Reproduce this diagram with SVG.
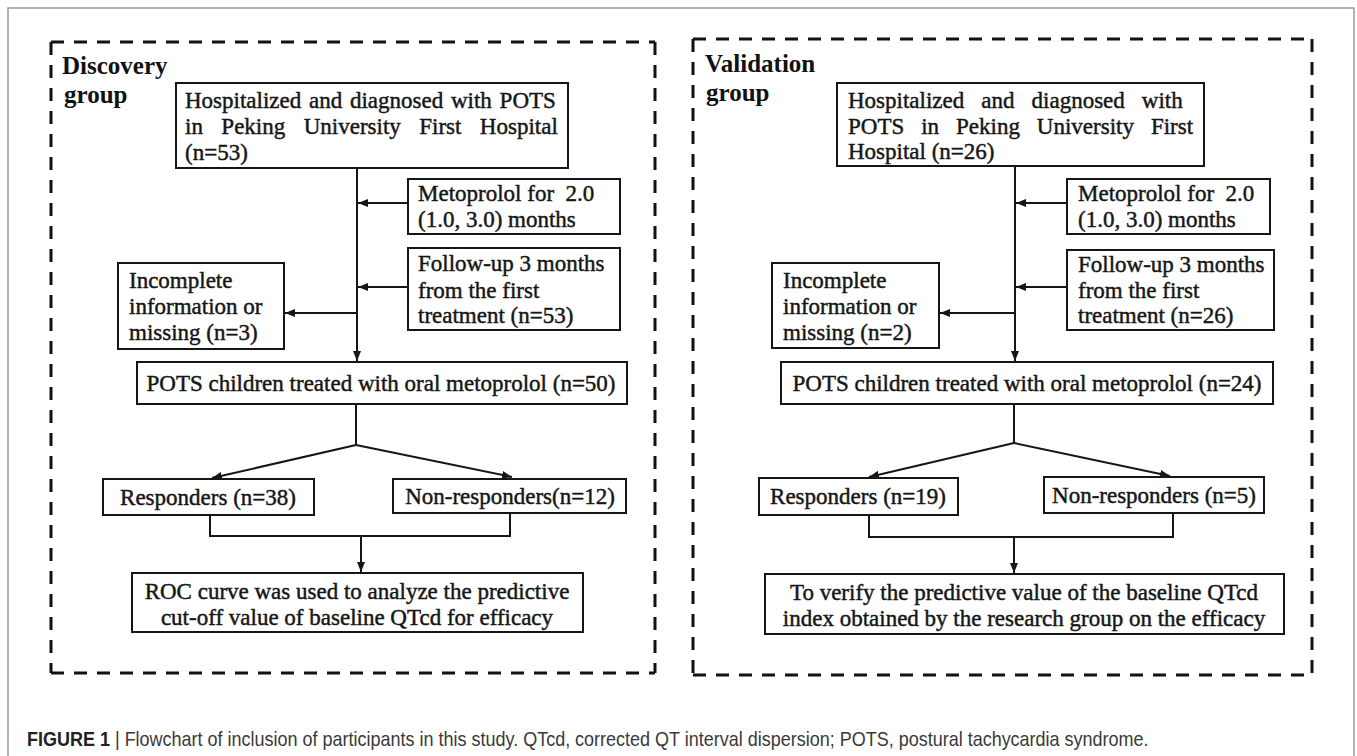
<svg xmlns="http://www.w3.org/2000/svg" width="1357" height="756" viewBox="0 0 1357 756">
<style>
.t{font-family:"Liberation Serif","Times New Roman",serif;font-size:23px;fill:#161616;stroke:#161616;stroke-width:0.45}
.h{font-family:"Liberation Serif","Times New Roman",serif;font-size:25px;font-weight:bold;fill:#111}
.m{text-anchor:middle}
.b{fill:#fff;stroke:#161616;stroke-width:2}
.c{fill:none;stroke:#161616;stroke-width:2}
.a{marker-end:url(#ar)}
.d{fill:none;stroke:#111;stroke-width:3;stroke-dasharray:13 10}
.cap{font-family:"Liberation Sans",Arial,sans-serif;font-size:18px}
</style>
<defs>
<marker id="ar" markerUnits="userSpaceOnUse" markerWidth="10" markerHeight="8" refX="10" refY="4" orient="auto">
<path d="M0,0 L10,4 L0,8 z" fill="#161616"/>
</marker>
</defs>
<rect x="8" y="8" width="1346" height="800" fill="none" stroke="#9a9a9a" stroke-width="1.5"/>

<g id="frames">
<path class="d" d="M51,42 H655 M51,673 H655 M51,42 V673 M655,42 V673"/>
<path class="d" d="M693,39 H1312 M693,675 H1312 M693,39 V675 M1312,39 V675"/>
</g>

<g id="labels">
<text class="h" x="62" y="74">Discovery</text>
<text class="h" x="64" y="103">group</text>
<text class="h" x="705" y="72">Validation</text>
<text class="h" x="706" y="101">group</text>
</g>

<g id="connectors">
<path class="c a" d="M357,168 V361"/>
<path class="c a" d="M408,203 H358"/>
<path class="c a" d="M408,287 H358"/>
<path class="c a" d="M357,313 H285"/>
<path class="c" d="M356,404 V445"/>
<path class="c a" d="M356,445 L212,478"/>
<path class="c a" d="M356,445 L512,477"/>
<path class="c" d="M210,515 V536 H510 V513"/>
<path class="c a" d="M361,536 V572"/>
<path class="c a" d="M1015,166 V361"/>
<path class="c a" d="M1067,203 H1016"/>
<path class="c a" d="M1067,287 H1016"/>
<path class="c a" d="M1015,313 H940"/>
<path class="c" d="M1014,404 V443"/>
<path class="c a" d="M1014,443 L869,477"/>
<path class="c a" d="M1014,443 L1170,476"/>
<path class="c" d="M869,515 V537 H1173 V513"/>
<path class="c a" d="M1014,537 V573"/>
</g>

<g id="d-hosp">
<rect class="b" x="176" y="83" width="392" height="85"/>
<text class="t" x="185" y="108" word-spacing="2">Hospitalized and diagnosed with POTS</text>
<text class="t" x="185" y="134" word-spacing="12.7">in Peking University First Hospital</text>
<text class="t" x="185" y="160">(n=53)</text>
</g>
<g id="d-meto">
<rect class="b" x="408" y="179" width="212" height="55"/>
<text class="t" x="418" y="201" xml:space="preserve">Metoprolol for  2.0</text>
<text class="t" x="418" y="227">(1.0, 3.0) months</text>
</g>
<g id="d-follow">
<rect class="b" x="408" y="248" width="212" height="82"/>
<text class="t" x="418" y="271">Follow-up 3 months</text>
<text class="t" x="418" y="298">from the first</text>
<text class="t" x="418" y="323">treatment (n=53)</text>
</g>
<g id="d-incomplete">
<rect class="b" x="118" y="263" width="166" height="86"/>
<text class="t" x="129" y="288">Incomplete</text>
<text class="t" x="129" y="314">information or</text>
<text class="t" x="129" y="340">missing (n=3)</text>
</g>
<g id="d-pots">
<rect class="b" x="137" y="362" width="490" height="42"/>
<text class="t m" x="381" y="391">POTS children treated with oral metoprolol (n=50)</text>
</g>
<g id="d-resp">
<rect class="b" x="103" y="479" width="211" height="36"/>
<text class="t m" x="208" y="505">Responders (n=38)</text>
</g>
<g id="d-nonresp">
<rect class="b" x="393" y="479" width="233" height="34"/>
<text class="t m" x="510" y="504">Non-responders(n=12)</text>
</g>
<g id="d-roc">
<rect class="b" x="132" y="573" width="451" height="59"/>
<text class="t m" x="357" y="599">ROC curve was used to analyze the predictive</text>
<text class="t m" x="357" y="625">cut-off value of baseline QTcd for efficacy</text>
</g>

<g id="v-hosp">
<rect class="b" x="837" y="83" width="367" height="83"/>
<text class="t" x="848" y="108" word-spacing="11.3">Hospitalized and diagnosed with</text>
<text class="t" x="848" y="134" word-spacing="11.2">POTS in Peking University First</text>
<text class="t" x="848" y="159">Hospital (n=26)</text>
</g>
<g id="v-meto">
<rect class="b" x="1067" y="179" width="203" height="55"/>
<text class="t" x="1078" y="201" xml:space="preserve">Metoprolol for  2.0</text>
<text class="t" x="1078" y="227">(1.0, 3.0) months</text>
</g>
<g id="v-follow">
<rect class="b" x="1067" y="250" width="207" height="80"/>
<text class="t" x="1078" y="272">Follow-up 3 months</text>
<text class="t" x="1078" y="298">from the first</text>
<text class="t" x="1078" y="323">treatment (n=26)</text>
</g>
<g id="v-incomplete">
<rect class="b" x="772" y="263" width="167" height="85"/>
<text class="t" x="783" y="288">Incomplete</text>
<text class="t" x="783" y="314">information or</text>
<text class="t" x="783" y="340">missing (n=2)</text>
</g>
<g id="v-pots">
<rect class="b" x="781" y="362" width="492" height="42"/>
<text class="t m" x="1027" y="391">POTS children treated with oral metoprolol (n=24)</text>
</g>
<g id="v-resp">
<rect class="b" x="759" y="478" width="199" height="37"/>
<text class="t m" x="858" y="504">Responders (n=19)</text>
</g>
<g id="v-nonresp">
<rect class="b" x="1044" y="477" width="220" height="36"/>
<text class="t m" x="1154" y="503">Non-responders (n=5)</text>
</g>
<g id="v-verify">
<rect class="b" x="765" y="574" width="519" height="60"/>
<text class="t m" x="1024" y="600">To verify the predictive value of the baseline QTcd</text>
<text class="t m" x="1024" y="626">index obtained by the research group on the efficacy</text>
</g>

<g id="caption">
<text class="cap" transform="translate(27,746) scale(1,1.08)" x="0" y="0" fill="#3a3a3a"><tspan font-weight="bold" fill="#222">FIGURE 1</tspan> <tspan fill="#333">|</tspan> Flowchart of inclusion of participants in this study. QTcd, corrected QT interval dispersion; POTS, postural tachycardia syndrome.</text>
</g>
</svg>
